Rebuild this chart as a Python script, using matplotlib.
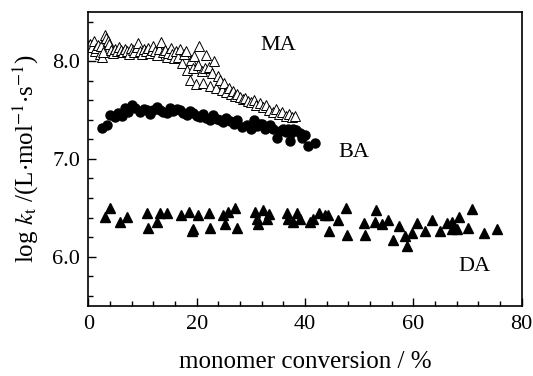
import matplotlib
matplotlib.use("Agg")
import matplotlib.pyplot as plt
from matplotlib.ticker import MultipleLocator

plt.rcParams['font.family'] = ['Liberation Serif', 'DejaVu Serif']
plt.rcParams['mathtext.fontset'] = 'stix'

ma_x = [0.3, 0.6, 1.0, 1.2, 1.5, 1.8, 2.1, 2.4, 2.5, 2.8, 3.0, 3.3, 3.6, 3.9, 4.2, 4.6,
        5.0, 5.3, 5.7, 6.0, 6.4, 6.8, 7.1, 7.5, 7.8, 8.2, 8.5, 8.9, 9.2, 9.6, 9.9, 10.3,
        10.6, 11.0, 11.3, 11.7, 12.0, 12.4, 12.7, 13.1, 13.4, 13.8, 14.1, 14.5, 14.8, 15.2,
        15.5, 15.9, 16.2, 16.6, 16.9, 17.3, 17.6, 18.0, 18.3, 18.7, 19.0, 19.3, 19.6, 19.9,
        20.2, 20.5, 20.9, 21.2, 21.5, 21.8, 22.2, 22.5, 22.9, 23.2, 23.6, 24.0, 24.3, 24.7,
        25.1, 25.5, 25.9, 26.3, 26.7, 27.1, 27.5, 28.0, 28.5, 29.0, 29.5, 30.0, 30.5, 31.0,
        31.6, 32.2, 32.8, 33.4, 34.0, 34.6, 35.2, 35.8, 36.4, 37.0, 37.6, 38.2]
ma_y = [8.17, 8.14, 8.20, 8.10, 8.13, 8.16, 8.07, 8.15, 8.04, 8.09, 8.27, 8.23, 8.20, 8.17, 8.11, 8.08,
        8.12, 8.10, 8.14, 8.11, 8.09, 8.12, 8.10, 8.07, 8.13, 8.11, 8.09, 8.14, 8.18, 8.10, 8.07, 8.12,
        8.10, 8.13, 8.08, 8.11, 8.15, 8.10, 8.06, 8.12, 8.19, 8.09, 8.11, 8.04, 8.08, 8.13,
        8.07, 8.03, 8.10, 8.04, 8.12, 7.98, 8.07, 8.10, 7.91, 7.81, 8.01, 7.93, 8.05, 7.76,
        7.96, 8.15, 7.90, 7.77, 7.93, 8.06, 7.94, 7.74, 7.88, 8.00, 7.72, 7.85, 7.81, 7.70,
        7.78, 7.68, 7.72, 7.66, 7.69, 7.64, 7.66, 7.63, 7.61, 7.62, 7.59, 7.58, 7.60, 7.55,
        7.57, 7.53, 7.55, 7.50, 7.48, 7.51, 7.46, 7.48, 7.44, 7.46, 7.43, 7.44]

ba_x = [2.5, 3.4, 4.0, 4.9, 5.5, 6.2, 6.8, 7.4, 8.0, 8.6, 9.5, 10.2, 10.8, 11.4, 12.0, 12.6,
        13.2, 13.8, 14.5, 15.1, 15.7, 16.3, 16.9, 17.5, 18.2, 18.8, 19.4, 20.0, 20.6, 21.2,
        21.8, 22.5, 23.1, 23.7, 24.3, 24.9, 25.5, 26.1, 26.8, 27.5, 28.3, 29.2, 30.0, 30.5,
        31.1, 31.7, 32.0, 32.6, 32.9, 33.5, 34.1, 34.8, 35.4, 35.9, 36.4, 36.9, 37.2, 37.5,
        37.8, 38.4, 39.1, 39.4, 40.0, 40.6, 41.8]
ba_y = [7.32, 7.35, 7.45, 7.43, 7.47, 7.44, 7.52, 7.48, 7.55, 7.52, 7.48, 7.51, 7.50, 7.46, 7.50, 7.53,
        7.50, 7.48, 7.47, 7.52, 7.49, 7.51, 7.50, 7.47, 7.45, 7.49, 7.47, 7.44, 7.43, 7.46,
        7.42, 7.40, 7.45, 7.41, 7.40, 7.38, 7.42, 7.39, 7.36, 7.40, 7.33, 7.35, 7.31, 7.40,
        7.34, 7.36, 7.36, 7.30, 7.33, 7.35, 7.31, 7.21, 7.28, 7.30, 7.27, 7.31, 7.18, 7.26,
        7.31, 7.29, 7.26, 7.21, 7.24, 7.13, 7.16]

da_x = [3.1, 4.0, 5.9, 7.1, 10.8, 11.1, 12.6, 13.2, 14.5, 17.2, 18.5, 19.1, 19.3, 20.3,
        22.2, 22.5, 24.9, 25.2, 25.8, 27.1, 27.4, 30.8, 31.1, 31.4, 32.3, 32.9, 33.4,
        36.6, 36.9, 37.8, 38.5, 39.1, 40.9, 41.5, 42.5, 43.7, 44.3, 44.5, 46.1, 47.6, 47.7,
        50.8, 51.1, 52.9, 53.1, 54.2, 55.4, 56.2, 57.4, 58.5, 58.8, 59.7, 60.6, 62.1, 63.4,
        64.9, 66.2, 67.1, 67.1, 68.0, 68.5, 70.1, 70.8, 73.1, 75.5]
da_y = [6.41, 6.50, 6.35, 6.41, 6.45, 6.29, 6.36, 6.45, 6.45, 6.43, 6.46, 6.26, 6.28, 6.43,
        6.45, 6.29, 6.43, 6.33, 6.46, 6.50, 6.29, 6.46, 6.39, 6.33, 6.48, 6.39, 6.44,
        6.45, 6.39, 6.36, 6.45, 6.39, 6.36, 6.39, 6.45, 6.43, 6.43, 6.26, 6.38, 6.50, 6.22,
        6.34, 6.22, 6.36, 6.48, 6.33, 6.38, 6.17, 6.31, 6.21, 6.11, 6.24, 6.34, 6.26, 6.38,
        6.26, 6.34, 6.36, 6.28, 6.28, 6.41, 6.29, 6.49, 6.24, 6.28]

labels = ["MA", "BA", "DA"]
label_pos = [(35.0, 8.16), (49.0, 7.07), (71.2, 5.90)]

fig = plt.figure(figsize=(5.33, 3.76), dpi=100)
ax = fig.add_axes([0.1657, 0.187, 0.8131, 0.781])

ax.plot(ma_x, ma_y, linestyle='none', marker='^', ms=7, mfc='white', mec='black', mew=0.7)
ax.plot(ba_x, ba_y, linestyle='none', marker='o', ms=6.5, mfc='black', mec='black')
ax.plot(da_x, da_y, linestyle='none', marker='^', ms=6.5, mfc='black', mec='black')

for t, (x, y) in zip(labels, label_pos):
    ax.text(x, y, t, fontsize=16, ha='center', va='center')

ax.set_xlim(0, 80)
ax.set_ylim(5.5, 8.5)
ax.xaxis.set_major_locator(MultipleLocator(20))
ax.xaxis.set_minor_locator(MultipleLocator(4))
ax.yaxis.set_major_locator(MultipleLocator(1.0))
ax.yaxis.set_minor_locator(MultipleLocator(0.2))
ax.yaxis.set_major_formatter(matplotlib.ticker.FormatStrFormatter('%.1f'))
ax.tick_params(which='both', direction='in', top=False, right=False, labelsize=16, width=1.0)
ax.tick_params(axis='x', which='major', length=6, pad=7)
ax.tick_params(axis='y', which='major', length=6, pad=6)
ax.tick_params(which='minor', length=3.5)
for s in ax.spines.values():
    s.set_linewidth(1.2)

ax.set_xlabel('monomer conversion / %', fontsize=18, labelpad=12)
ax.set_ylabel(r'log $k_{\rm t}$ /(L$\cdot$mol$^{-1}$$\cdot$s$^{-1}$)', fontsize=18, labelpad=8)

fig.savefig('out.png', dpi=100)
